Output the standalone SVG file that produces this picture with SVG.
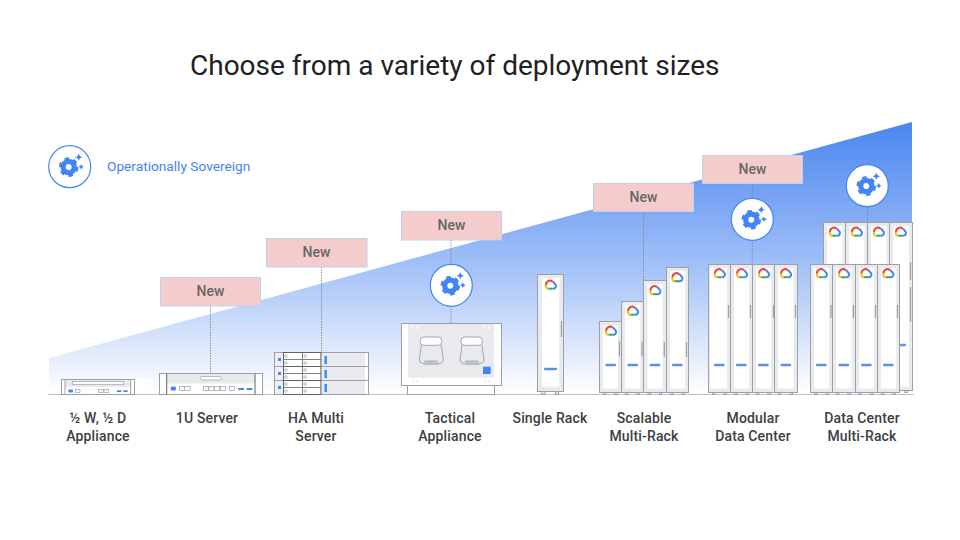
<svg xmlns="http://www.w3.org/2000/svg" width="960" height="540" viewBox="0 0 960 540">
<style>
text{font-family:Roboto,"Liberation Sans",sans-serif}
.title{font-size:28px;fill:#202124}
.lbl{font-size:14px;letter-spacing:.15px;font-weight:500;fill:#3c4043;text-anchor:middle}
.new{font-size:14px;font-weight:500;fill:#666;text-anchor:middle}
.legend{font-size:13.7px;fill:#4285f4}
.box{fill:#f4cccc;stroke:#c3cfec;stroke-width:1}
.dot{stroke:#80868b;stroke-width:1;stroke-dasharray:1.3 1.3;fill:none}
.ring{fill:#fff;stroke:#4285f4;stroke-width:1.2}
.b{fill:#4285f4}
.db{fill:#5b90f2}
.g{fill:#e8eaed}
.w{fill:#fff}
.o{fill:none;stroke:#9aa0a6;stroke-width:1}
.s{fill:#fff;stroke:#9aa0a6;stroke-width:.7}
.rk{fill:#e8eaed;stroke:#9aa0a6;stroke-width:1}
.h{stroke:#9aa0a6;stroke-width:1.2;fill:none}
.ft{fill:#fff;stroke:#80868b;stroke-width:.8}
</style>
<defs>
<linearGradient id="sky" x1="0" y1="122" x2="0" y2="394" gradientUnits="userSpaceOnUse">
<stop offset="0" stop-color="#4a86f0"/><stop offset=".5" stop-color="#9dbdf7"/><stop offset="1" stop-color="#ffffff"/>
</linearGradient>
<g id="gear">
<circle cx="-1" cy="0.4" r="5.6" fill="none" stroke="#4285f4" stroke-width="5.2"/>
<circle cx="-1" cy="0.4" r="8.3" fill="none" stroke="#4285f4" stroke-width="3" stroke-dasharray="4.5 4.19"/>
<path class="b" d="M9,-13.5Q9.4,-9.9 13,-9.5Q9.4,-9.1 9,-5.5Q8.6,-9.1 5,-9.5Q8.6,-9.9 9,-13.5Z"/>
<path class="b" d="M11.5,-3Q11.8,-.3 14.5,0Q11.8,.3 11.5,3Q11.2,.3 8.5,0Q11.2,-.3 11.5,-3Z"/>
</g>
<g id="logo" fill="none" stroke-width="2">
<path d="M-4.4,0 A2.6,2.6 0 0 0 -3,3.7 H-2.2" stroke="#fbbc04"/>
<path d="M-2.2,3.7 H2" stroke="#34a853"/>
<path d="M2,3.7 H3 A2.6,2.6 0 0 0 4.3,-1.1 A3.6,3.6 0 0 0 2,-3.3" stroke="#4285f4"/>
<path d="M-4.4,0 A3.8,3.8 0 0 1 2,-3.3" stroke="#ea4335"/>
</g>
<g id="foot"><rect class="ft" x="4" y="0" width="2.4" height="2"/><rect class="ft" x="15.4" y="0" width="2.4" height="2"/></g>
<g id="pod">
<path d="M1,8 L-1,23 Q-1,26 4,27 H18 Q23,26 23,23 L21,8" fill="none" stroke="#9aa0a6" stroke-width=".9"/>
<rect x="0" y="0" width="21.400" height="8.300" rx="3.500" fill="#fff" stroke="#9aa0a6" stroke-width=".9"/>
<rect x="3.500" y="23.300" width="14.500" height="4.700" rx="2.300" fill="#bdc1c6"/>
</g>
<g id="harow">
<rect x="0" y="0" width="94" height="14" class="g"/>
<rect x="0" y="0" width="94" height="14" class="o"/>
<rect x="0.500" y="0.500" width="8.500" height="13" fill="#eef0f2"/>
<rect x="3.500" y="5.500" width="3" height="3" class="b"/>
<rect x="9" y="0" width="37.400" height="14" fill="#fff" stroke="#5f6368" stroke-width="1"/>
<path d="M28,0V14M9,7H46.400" stroke="#5f6368" stroke-width=".8"/>
<circle cx="11.400" cy="3.500" r="1.300" class="s"/><circle cx="11.400" cy="10.500" r="1.300" class="s"/>
<circle cx="30.700" cy="3.500" r="1.300" class="s"/><circle cx="30.700" cy="10.500" r="1.300" class="s"/>
<rect x="50" y="3.500" width="2.400" height="8" class="b"/>
<rect x="90.500" y="0.500" width="3" height="13" fill="#fff"/>
</g>
</defs>

<rect width="960" height="540" fill="#fff"/>
<polygon id="wedge" points="49,358 912,122 912,394 49,394" fill="url(#sky)"/>
<rect x="134" y="378" width="17" height="16" fill="#fff"/>
<line x1="48" y1="394.500" x2="914" y2="394.500" stroke="#bdc1c6" stroke-width="1"/>

<text class="title" x="190" y="74.500">Choose from a variety of deployment sizes</text>

<g id="legend">
<circle class="ring" cx="69.700" cy="166.700" r="21"/>
<use href="#gear" x="69.700" y="166.700"/>
<text class="legend" x="107" y="170.500">Operationally Sovereign</text>
</g>

<g id="connectors">
<path class="dot" d="M210.500,306V373M321.500,267V352M451,240V264M451,306V323M643.500,211V281M752.300,183V198M752.300,240V264M867.500,207V222"/>
</g>

<g id="half-appliance">
<rect x="61.500" y="379.500" width="73" height="15" class="w"/>
<rect x="65" y="380" width="65.700" height="7" class="g"/>
<rect x="61.500" y="379.500" width="73" height="15" class="o"/>
<path class="o" d="M65,379.500V394.500M130.700,379.500V394.500"/>
<rect x="72.300" y="381.500" width="51.400" height="3.200" class="s"/>
<rect x="68.300" y="389.500" width="4.700" height="3" rx="1" class="b"/>
<rect x="75.300" y="389.500" width="4.700" height="3" class="s"/>
<rect x="98.300" y="389.500" width="5" height="3" class="s"/><rect x="104" y="389.500" width="4.700" height="3" class="s"/>
<rect x="117" y="390.300" width="4.300" height="1.800" class="b"/><rect x="123.300" y="390.300" width="4.400" height="1.800" class="b"/>
<text class="lbl" x="98" y="422.500">½ W, ½ D</text>
<text class="lbl" x="98" y="441">Appliance</text>
</g>

<g id="one-u">
<rect x="159.500" y="373.500" width="103" height="21" class="w"/>
<rect x="167" y="374" width="88" height="9.500" class="g"/>
<rect x="159.500" y="373.500" width="103" height="21" class="o"/>
<path d="M166.700,373.500V394.500M255,373.500V394.500" stroke="#5f6368" fill="none"/>
<rect x="200.300" y="376.500" width="21.400" height="3.500" rx="1.500" class="s"/>
<rect x="170.700" y="386.500" width="5.300" height="4" rx="1.500" class="b"/>
<rect x="179.300" y="386.500" width="5.400" height="4" class="s"/><rect x="184.700" y="386.500" width="5.300" height="4" class="s"/>
<rect x="203.300" y="386.500" width="5" height="4" class="s"/><rect x="209" y="386.500" width="5" height="4" class="s"/><rect x="214.700" y="386.500" width="5" height="4" class="s"/><rect x="220.300" y="386.500" width="5" height="4" class="s"/><rect x="229.300" y="386.500" width="5" height="4" class="s"/>
<rect x="238.300" y="388" width="5.700" height="2" class="b"/><rect x="246.700" y="388" width="5.600" height="2" class="b"/>
<text class="lbl" x="207" y="422.500">1U Server</text>
</g>

<g id="ha-multi">
<use href="#harow" x="274.500" y="352.500"/>
<use href="#harow" x="274.500" y="366.500"/>
<use href="#harow" x="274.500" y="380.500"/>
<text class="lbl" x="316" y="422.500">HA Multi</text>
<text class="lbl" x="316" y="441">Server</text>
</g>

<g id="tactical">
<rect x="407.500" y="385.500" width="87" height="9" class="w" stroke="#9aa0a6"/>
<rect x="401.500" y="323.500" width="100" height="62" class="w" stroke="#9aa0a6"/>
<rect x="408" y="324" width="86" height="53.700" class="g"/>
<g class="w"><circle cx="413" cy="327.700" r="1.200"/><circle cx="417.300" cy="327.700" r="1.200"/><circle cx="485" cy="327.700" r="1.200"/><circle cx="489" cy="327.700" r="1.200"/></g>
<g class="g"><circle cx="413" cy="381.300" r="1.200"/><circle cx="417.300" cy="381.300" r="1.200"/><circle cx="485" cy="381.300" r="1.200"/><circle cx="489" cy="381.300" r="1.200"/></g>
<rect x="483" y="366.700" width="7.700" height="7.300" class="b"/>
<use href="#pod" x="420.300" y="337"/>
<use href="#pod" x="461" y="337"/>
<circle class="ring" cx="451.300" cy="285.300" r="21"/>
<use href="#gear" x="451.300" y="285.300"/>
<text class="lbl" x="450" y="422.500">Tactical</text>
<text class="lbl" x="450" y="441">Appliance</text>
</g>

<g id="single-rack">
<rect class="ft" x="542" y="391.500" width="3" height="2.500"/><rect class="ft" x="555.500" y="391.500" width="3" height="2.500"/>
<rect class="rk" x="537.500" y="274.500" width="26" height="117"/>
<rect class="w" x="542" y="278" width="17.300" height="108.700"/>
<use href="#logo" x="550.500" y="285"/>
<rect class="db" x="544" y="367.800" width="13" height="2.400" rx="1"/>
<path class="h" d="M561.500,321V337"/>
<text class="lbl" x="550" y="422.500">Single Rack</text>
</g>

<g id="scalable">
<use href="#foot" x="599.500" y="392.300"/><use href="#foot" x="621.500" y="392.300"/><use href="#foot" x="644" y="392.300"/><use href="#foot" x="666.500" y="392.300"/>
<rect class="rk" x="599.500" y="321.500" width="22" height="71"/><rect class="w" x="602.800" y="325" width="15.200" height="63.500"/><use href="#logo" x="610.700" y="331"/><rect class="db" x="605.300" y="363.800" width="10.700" height="2.400" rx="1"/><path class="h" d="M619.500,341.500V356.500"/>
<rect class="rk" x="621.500" y="301.500" width="22" height="91"/><rect class="w" x="625" y="305" width="15.200" height="83.500"/><use href="#logo" x="632.700" y="311"/><rect class="db" x="627.300" y="363.800" width="10.700" height="2.400" rx="1"/><path class="h" d="M642,341.500V356.500"/>
<rect class="rk" x="643.500" y="280.500" width="23" height="112"/><rect class="w" x="647.500" y="284" width="15.200" height="104.500"/><use href="#logo" x="655" y="290.500"/><rect class="db" x="649.700" y="363.800" width="10.700" height="2.400" rx="1"/><path class="h" d="M664.300,342V357"/>
<rect class="rk" x="666.500" y="267.500" width="22" height="125"/><rect class="w" x="670" y="271" width="15.200" height="117.500"/><use href="#logo" x="677" y="277.500"/><rect class="db" x="672" y="363.800" width="10.700" height="2.400" rx="1"/><path class="h" d="M686.500,342V357"/>
<text class="lbl" x="644" y="422.500">Scalable</text>
<text class="lbl" x="644" y="441">Multi-Rack</text>
</g>

<g id="modular">
<use href="#foot" x="708.500" y="392.300"/><use href="#foot" x="730.500" y="392.300"/><use href="#foot" x="752.500" y="392.300"/><use href="#foot" x="774.500" y="392.300"/>
<rect class="rk" x="708.500" y="264.500" width="22" height="128"/><rect class="w" x="710" y="268" width="17" height="120.500"/><use href="#logo" x="719.500" y="273.500"/><rect class="db" x="714" y="363.800" width="10.700" height="2.400" rx="1"/><path class="h" d="M728.500,305V318"/>
<rect class="rk" x="730.500" y="264.500" width="22" height="128"/><rect class="w" x="734" y="268" width="15.200" height="120.500"/><use href="#logo" x="741.700" y="273.500"/><rect class="db" x="736" y="363.800" width="10.700" height="2.400" rx="1"/><path class="h" d="M750.500,305V318"/>
<rect class="rk" x="752.500" y="264.500" width="22" height="128"/><rect class="w" x="756" y="268" width="15.200" height="120.500"/><use href="#logo" x="763.700" y="273.500"/><rect class="db" x="758" y="363.800" width="10.700" height="2.400" rx="1"/><path class="h" d="M773.500,305V318"/>
<rect class="rk" x="774.500" y="264.500" width="23" height="128"/><rect class="w" x="778" y="268" width="15.500" height="120.500"/><use href="#logo" x="785.700" y="273.500"/><rect class="db" x="780.500" y="363.800" width="10.700" height="2.400" rx="1"/><path class="h" d="M795.500,305V318"/>
<circle class="ring" cx="752.300" cy="219.300" r="21"/>
<use href="#gear" x="752.300" y="219.300"/>
<text class="lbl" x="753" y="422.500">Modular</text>
<text class="lbl" x="753" y="441">Data Center</text>
</g>

<g id="data-center">
<rect class="rk" x="823.500" y="222.500" width="22" height="60"/><rect class="w" x="827" y="226" width="15.500" height="50"/><use href="#logo" x="834.500" y="232"/>
<rect class="rk" x="845.500" y="222.500" width="22" height="60"/><rect class="w" x="849" y="226" width="15.500" height="50"/><use href="#logo" x="856.500" y="232"/>
<rect class="rk" x="867.500" y="222.500" width="22" height="60"/><rect class="w" x="871" y="226" width="15.500" height="50"/><use href="#logo" x="878.500" y="232"/>
<use href="#foot" x="889.500" y="390.700"/>
<rect class="rk" x="889.500" y="222.500" width="23" height="168"/><rect class="w" x="893.500" y="226" width="15.500" height="161"/><use href="#logo" x="900.500" y="232"/><rect class="db" x="898" y="343.800" width="8" height="2.400" rx="1"/><path class="h" d="M910.500,262V280M910.500,287V322"/>
<use href="#foot" x="810.500" y="392.300"/><use href="#foot" x="832.500" y="392.300"/><use href="#foot" x="855" y="392.300"/><use href="#foot" x="877.500" y="392.300"/>
<rect class="rk" x="810.500" y="264.500" width="22" height="128"/><rect class="w" x="814" y="268" width="15.200" height="120.500"/><use href="#logo" x="821.500" y="273.500"/><rect class="db" x="816" y="363.800" width="10.700" height="2.400" rx="1"/><path class="h" d="M831,305V318"/>
<rect class="rk" x="832.500" y="264.500" width="23" height="128"/><rect class="w" x="836" y="268" width="15.500" height="120.500"/><use href="#logo" x="843.700" y="273.500"/><rect class="db" x="838.500" y="363.800" width="10.700" height="2.400" rx="1"/><path class="h" d="M853.500,305V318"/>
<rect class="rk" x="855.500" y="264.500" width="22" height="128"/><rect class="w" x="859" y="268" width="15.200" height="120.500"/><use href="#logo" x="866" y="273.500"/><rect class="db" x="861" y="363.800" width="10.700" height="2.400" rx="1"/><path class="h" d="M875.500,305V318"/>
<rect class="rk" x="877.500" y="264.500" width="22" height="128"/><rect class="w" x="881" y="268" width="15.200" height="120.500"/><use href="#logo" x="888" y="273.500"/><rect class="db" x="883" y="363.800" width="10.700" height="2.400" rx="1"/><path class="h" d="M897.500,305V318"/>
<circle class="ring" cx="867.300" cy="185.700" r="21"/>
<use href="#gear" x="867.300" y="185.700"/>
<text class="lbl" x="862" y="422.500">Data Center</text>
<text class="lbl" x="862" y="441">Multi-Rack</text>
</g>

<g id="new-1u"><rect class="box" x="160.500" y="277.500" width="100" height="28.500"/><text class="new" x="210.500" y="296">New</text></g>
<g id="new-ha"><rect class="box" x="266.500" y="238.500" width="100.500" height="28.500"/><text class="new" x="316.500" y="257">New</text></g>
<g id="new-tactical"><rect class="box" x="401.500" y="211.500" width="100" height="28.500"/><text class="new" x="451.500" y="230">New</text></g>
<g id="new-scalable"><rect class="box" x="593.500" y="183.500" width="100" height="28"/><text class="new" x="643.500" y="201.500">New</text></g>
<g id="new-modular"><rect class="box" x="702.500" y="155.500" width="100" height="28"/><text class="new" x="752.500" y="173.500">New</text></g>
</svg>
